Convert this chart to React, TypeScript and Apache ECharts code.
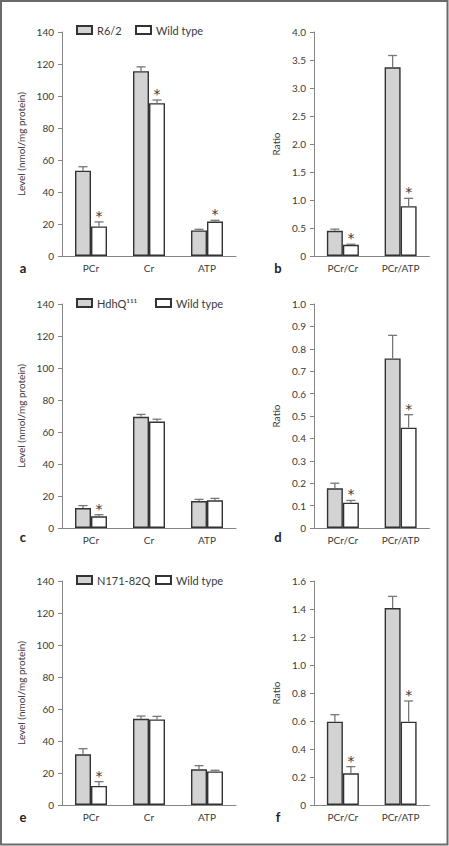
import React, { useEffect, useRef } from 'react';
import * as echarts from 'echarts';

// ---------- data ----------
const levelCategories = ['PCr', 'Cr', 'ATP'];
const ratioCategories = ['PCr/Cr', 'PCr/ATP'];
const wildName = 'Wild type';

// panel a (R6/2)
const aMutant = [53.3, 115.5, 16.0];
const aMutantErr = [55.8, 118.2, 16.7];
const aWild = [18.5, 95.5, 21.5];
const aWildErr = [21.3, 97.5, 22.3];
const aSig = [1, 1, 1];

// panel b (R6/2 ratios)
const bMutant = [0.45, 3.37];
const bMutantErr = [0.48, 3.58];
const bWild = [0.2, 0.89];
const bWildErr = [0.21, 1.03];
const bSig = [1, 1];

// panel c (HdhQ111)
const cMutant = [12.5, 69.5, 16.8];
const cMutantErr = [14.0, 71.0, 17.9];
const cWild = [7.3, 66.5, 17.3];
const cWildErr = [8.3, 68.0, 18.5];
const cSig = [1, 0, 0];

// panel d (HdhQ111 ratios)
const dMutant = [0.177, 0.757];
const dMutantErr = [0.2, 0.86];
const dWild = [0.113, 0.448];
const dWildErr = [0.123, 0.506];
const dSig = [1, 1];

// panel e (N171-82Q)
const eMutant = [31.7, 53.9, 22.3];
const eMutantErr = [35.2, 55.6, 24.6];
const eWild = [11.9, 53.5, 21.0];
const eWildErr = [14.6, 55.4, 21.7];
const eSig = [1, 0, 0];

// panel f (N171-82Q ratios)
const fMutant = [0.595, 1.407];
const fMutantErr = [0.645, 1.49];
const fWild = [0.226, 0.595];
const fWildErr = [0.274, 0.743];
const fSig = [1, 1];

const mutantNames = ['R6/2', 'HdhQ\u00B9\u00B9\u00B9', 'N171-82Q'];
const levelAxisName = 'Level (nmol/mg protein)';
const ratioAxisName = 'Ratio';
const panelLetters = ['a', 'b', 'c', 'd', 'e', 'f'];

// ---------- styling ----------
const FONT = 'Lato, "Liberation Sans", sans-serif';
const STAR_FONT = '"DejaVu Sans", sans-serif';
const AXIS_COLOR = '#858585';
const TEXT_COLOR = '#3a3a3a';
const GRAY_FILL = '#d3d3d3';
const BORDER = '#333333';
const ERR_COLOR = '#777777';
const BW = 16;

type Panel = {
  cats: string[];
  mutant: number[];
  mutantErr: number[];
  wild: number[];
  wildErr: number[];
  sig: number[];
  max: number;
  interval: number;
  mutantName: string;
  left: number;
  top: number;
  width: number;
  ratio: boolean;
};

const rowTops = [32, 304, 581];

const panels: Panel[] = [
  { cats: levelCategories, mutant: aMutant, mutantErr: aMutantErr, wild: aWild, wildErr: aWildErr, sig: aSig, max: 140, interval: 20, mutantName: mutantNames[0], left: 62, top: rowTops[0], width: 174, ratio: false },
  { cats: ratioCategories, mutant: bMutant, mutantErr: bMutantErr, wild: bWild, wildErr: bWildErr, sig: bSig, max: 4, interval: 0.5, mutantName: mutantNames[0], left: 314, top: rowTops[0], width: 115.5, ratio: true },
  { cats: levelCategories, mutant: cMutant, mutantErr: cMutantErr, wild: cWild, wildErr: cWildErr, sig: cSig, max: 140, interval: 20, mutantName: mutantNames[1], left: 62, top: rowTops[1], width: 174, ratio: false },
  { cats: ratioCategories, mutant: dMutant, mutantErr: dMutantErr, wild: dWild, wildErr: dWildErr, sig: dSig, max: 1, interval: 0.1, mutantName: mutantNames[1], left: 314, top: rowTops[1], width: 115.5, ratio: true },
  { cats: levelCategories, mutant: eMutant, mutantErr: eMutantErr, wild: eWild, wildErr: eWildErr, sig: eSig, max: 140, interval: 20, mutantName: mutantNames[2], left: 62, top: rowTops[2], width: 174, ratio: false },
  { cats: ratioCategories, mutant: fMutant, mutantErr: fMutantErr, wild: fWild, wildErr: fWildErr, sig: fSig, max: 1.6, interval: 0.2, mutantName: mutantNames[2], left: 314, top: rowTops[2], width: 115.5, ratio: true },
];

const PLOT_H = 224;

function makeErrSeries(i: number, values: number[], errs: number[], sig: number[] | null, offset: number) {
  return {
    type: 'custom',
    xAxisIndex: i,
    yAxisIndex: i,
    silent: true,
    clip: false,
    z: 5,
    data: values.map((v, k) => [k, v, errs[k], sig ? sig[k] : 0]),
    renderItem: (params: any, api: any) => {
      const base = api.coord([api.value(0), api.value(1)]);
      const top = api.coord([api.value(0), api.value(2)]);
      const x = base[0] + offset;
      const children: any[] = [
        { type: 'line', shape: { x1: x, y1: base[1], x2: x, y2: top[1] }, style: { stroke: ERR_COLOR, lineWidth: 1.3 } },
        { type: 'line', shape: { x1: x - 4.5, y1: top[1], x2: x + 4.5, y2: top[1] }, style: { stroke: ERR_COLOR, lineWidth: 1.3 } },
      ];
      if (api.value(3)) {
        children.push({
          type: 'text',
          x: x,
          y: top[1] - 6,
          style: { text: '*', fontSize: 14, fontFamily: STAR_FONT, fill: '#3a3a3a', align: 'center', verticalAlign: 'middle' },
        });
      }
      return { type: 'group', children };
    },
  };
}

export default function App() {
  const ref = useRef<HTMLDivElement>(null);
  useEffect(() => {
    if (!ref.current) return;
    const chart = echarts.init(ref.current, null, { renderer: 'svg' });

    const grid: any[] = [];
    const xAxis: any[] = [];
    const yAxis: any[] = [];
    const series: any[] = [];

    panels.forEach((p, i) => {
      grid.push({ left: p.left, top: p.top, width: p.width, height: PLOT_H });
      xAxis.push({
        type: 'category',
        gridIndex: i,
        data: p.cats,
        axisLine: { lineStyle: { color: AXIS_COLOR, width: 1 } },
        axisTick: { show: false },
        axisLabel: { fontSize: 10, fontFamily: FONT, color: TEXT_COLOR, margin: 7 },
      });
      yAxis.push({
        type: 'value',
        gridIndex: i,
        min: 0,
        max: p.max,
        interval: p.interval,
        name: p.ratio ? ratioAxisName : levelAxisName,
        nameLocation: 'middle',
        nameGap: p.ratio ? 33 : 36,
        nameTextStyle: { fontSize: 10, fontFamily: FONT, color: TEXT_COLOR },
        axisLine: { show: true, lineStyle: { color: AXIS_COLOR, width: 1 } },
        axisTick: { show: true, length: 4, lineStyle: { color: AXIS_COLOR } },
        splitLine: { show: false },
        axisLabel: {
          fontSize: 10,
          fontFamily: FONT,
          color: TEXT_COLOR,
          margin: 8,
          formatter: (v: number) => (v === 0 ? '0' : p.ratio ? v.toFixed(1) : String(Math.round(v))),
        },
      });
      series.push({
        type: 'bar',
        name: p.mutantName,
        xAxisIndex: i,
        yAxisIndex: i,
        data: p.mutant,
        barWidth: BW,
        barGap: '0%',
        itemStyle: { color: GRAY_FILL, borderColor: BORDER, borderWidth: 1.4 },
      });
      series.push({
        type: 'bar',
        name: wildName,
        xAxisIndex: i,
        yAxisIndex: i,
        data: p.wild,
        barWidth: BW,
        barGap: '0%',
        itemStyle: { color: '#ffffff', borderColor: BORDER, borderWidth: 1.4 },
      });
      series.push(makeErrSeries(i, p.mutant, p.mutantErr, null, -BW / 2));
      series.push(makeErrSeries(i, p.wild, p.wildErr, p.sig, BW / 2));
    });

    const legendTops = [24.5, 297.5, 574.5];
    const wildLegendLeft = [135, 155, 155];
    const legend: any[] = [];
    mutantNames.forEach((n, r) => {
      const common = {
        top: legendTops[r],
        icon: 'rect',
        itemWidth: 15,
        itemHeight: 8,
        selectedMode: false,
        textStyle: { fontSize: 11, fontFamily: FONT, color: TEXT_COLOR },
        padding: 0,
      };
      legend.push({ ...common, left: 76, data: [n] });
      legend.push({ ...common, left: wildLegendLeft[r], data: [wildName] });
    });

    const letterPos = [
      [23, 268], [278, 268],
      [23, 537], [278, 537],
      [23, 817], [278, 817],
    ];
    const graphic: any[] = [
      {
        type: 'rect',
        shape: { x: 1, y: 1, width: 446.5, height: 843.5 },
        style: { fill: 'none', stroke: '#6a6a6a', lineWidth: 2 },
        silent: true,
      },
      ...panelLetters.map((l, k) => ({
        type: 'text',
        x: letterPos[k][0],
        y: letterPos[k][1],
        style: { text: l, fontSize: 13, fontWeight: 'bold', fontFamily: FONT, fill: '#222', align: 'center', verticalAlign: 'middle' },
      })),
    ];

    chart.setOption({
      animation: false,
      backgroundColor: '#ffffff',
      grid,
      xAxis,
      yAxis,
      series,
      legend,
      graphic,
    });
    return () => chart.dispose();
  }, []);
  return <div ref={ref} style={{ position: 'absolute', left: 0, top: 0, width: 449, height: 846 }} />;
}
